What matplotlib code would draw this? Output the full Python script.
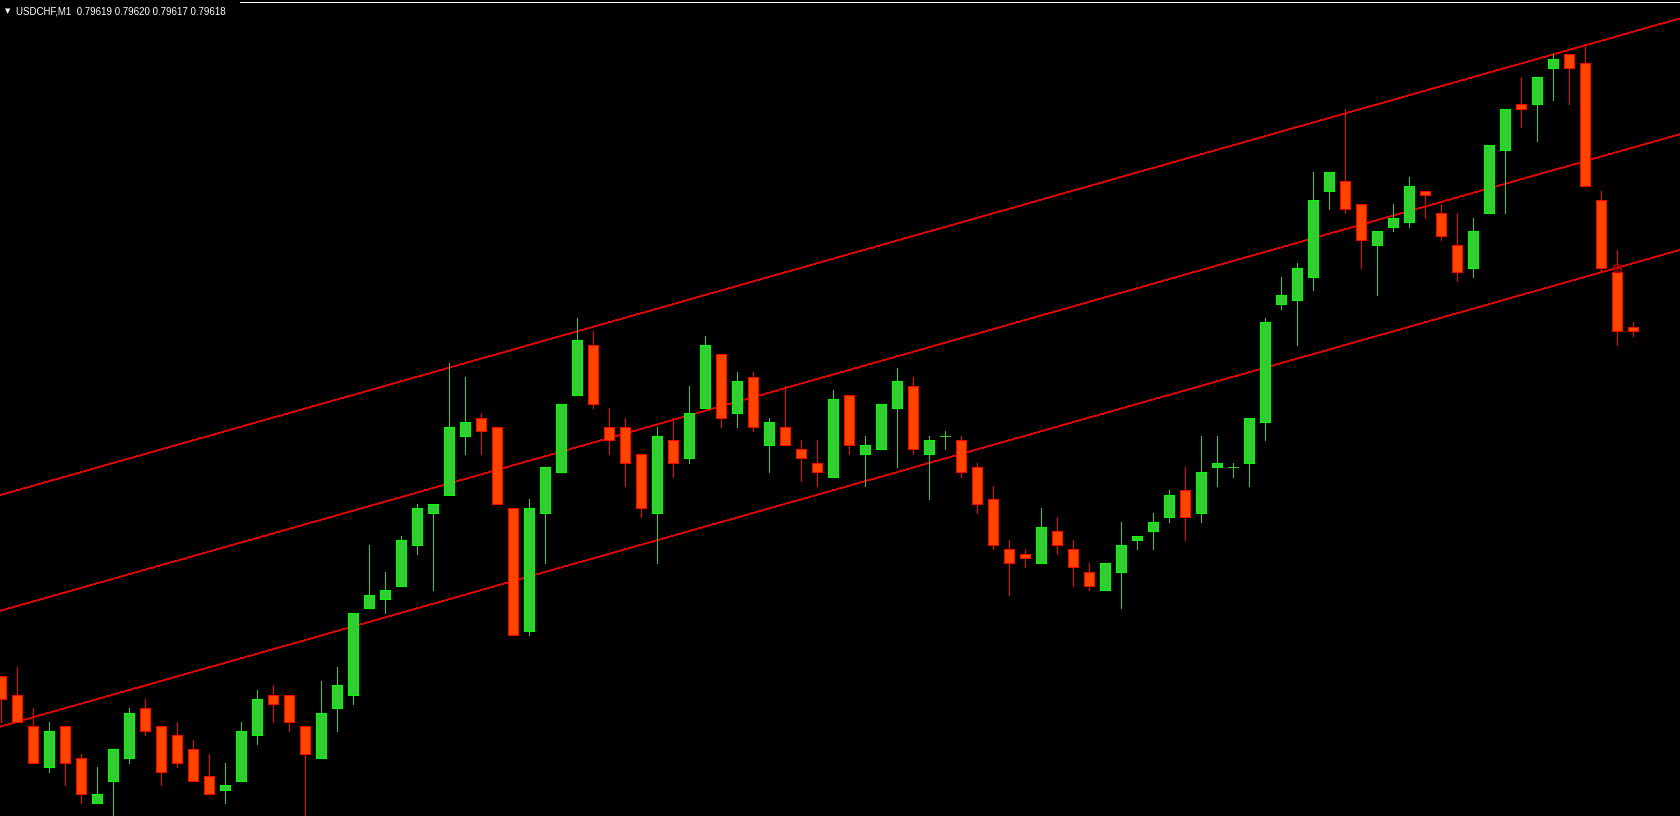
import matplotlib
matplotlib.use("Agg")
import matplotlib.pyplot as plt
from matplotlib.patches import Rectangle
from matplotlib.lines import Line2D

symbol = "USDCHF,M1"
last_quote = ["0.79619", "0.79620", "0.79617", "0.79618"]

# one-minute bars, oldest first
opens = [0.79542, 0.79538, 0.79531, 0.79522, 0.79531, 0.79524, 0.79514, 0.79519, 0.79524, 0.79535,
         0.79531, 0.79529, 0.79526, 0.79520, 0.79517, 0.79519, 0.79529, 0.79538, 0.79538, 0.79531,
         0.79524, 0.79535, 0.79538, 0.79557, 0.79559, 0.79562, 0.79571, 0.79578, 0.79582, 0.79595,
         0.79599, 0.79597, 0.79579, 0.79552, 0.79578, 0.79587, 0.79604, 0.79615, 0.79597, 0.79597,
         0.79591, 0.79578, 0.79594, 0.79590, 0.79601, 0.79613, 0.79600, 0.79608, 0.79593, 0.79597,
         0.79592, 0.79589, 0.79586, 0.79604, 0.79591, 0.79592, 0.79601, 0.79606, 0.79591, 0.79595,
         0.79594, 0.79588, 0.79581, 0.79570, 0.79569, 0.79567, 0.79574, 0.79570, 0.79565, 0.79561,
         0.79565, 0.79572, 0.79574, 0.79577, 0.79583, 0.79578, 0.79588, 0.79588, 0.79589, 0.79598,
         0.79624, 0.79625, 0.79630, 0.79649, 0.79651, 0.79646, 0.79637, 0.79641, 0.79642, 0.79649,
         0.79644, 0.79637, 0.79632, 0.79644, 0.79658, 0.79668, 0.79668, 0.79676, 0.79679, 0.79677,
         0.79647, 0.79631, 0.79619]
highs = [0.79542, 0.79544, 0.79535, 0.79532, 0.79531, 0.79525, 0.79522, 0.79526, 0.79535, 0.79537,
         0.79531, 0.79532, 0.79528, 0.79525, 0.79523, 0.79532, 0.79539, 0.79540, 0.79538, 0.79531,
         0.79541, 0.79544, 0.79556, 0.79571, 0.79565, 0.79573, 0.79580, 0.79580, 0.79611, 0.79608,
         0.79600, 0.79597, 0.79579, 0.79581, 0.79588, 0.79602, 0.79621, 0.79618, 0.79601, 0.79599,
         0.79591, 0.79597, 0.79599, 0.79606, 0.79617, 0.79613, 0.79609, 0.79609, 0.79599, 0.79606,
         0.79594, 0.79594, 0.79605, 0.79604, 0.79595, 0.79602, 0.79610, 0.79608, 0.79595, 0.79596,
         0.79595, 0.79589, 0.79584, 0.79572, 0.79570, 0.79579, 0.79577, 0.79572, 0.79567, 0.79567,
         0.79576, 0.79573, 0.79578, 0.79583, 0.79588, 0.79595, 0.79595, 0.79589, 0.79599, 0.79621,
         0.79630, 0.79633, 0.79653, 0.79653, 0.79667, 0.79646, 0.79640, 0.79646, 0.79652, 0.79649,
         0.79646, 0.79644, 0.79643, 0.79659, 0.79667, 0.79674, 0.79674, 0.79679, 0.79679, 0.79681,
         0.79649, 0.79636, 0.79620]
lows = [0.79532, 0.79532, 0.79523, 0.79521, 0.79518, 0.79514, 0.79514, 0.79509, 0.79523, 0.79529,
        0.79518, 0.79522, 0.79519, 0.79516, 0.79514, 0.79519, 0.79527, 0.79532, 0.79530, 0.79508,
        0.79524, 0.79530, 0.79536, 0.79557, 0.79556, 0.79562, 0.79569, 0.79561, 0.79582, 0.79591,
        0.79591, 0.79580, 0.79551, 0.79551, 0.79567, 0.79587, 0.79604, 0.79601, 0.79591, 0.79584,
        0.79577, 0.79567, 0.79586, 0.79589, 0.79601, 0.79597, 0.79597, 0.79596, 0.79587, 0.79593,
        0.79585, 0.79584, 0.79586, 0.79591, 0.79584, 0.79592, 0.79588, 0.79591, 0.79581, 0.79592,
        0.79586, 0.79578, 0.79570, 0.79560, 0.79566, 0.79567, 0.79569, 0.79562, 0.79561, 0.79561,
        0.79557, 0.79570, 0.79570, 0.79576, 0.79572, 0.79576, 0.79584, 0.79586, 0.79584, 0.79594,
        0.79623, 0.79615, 0.79627, 0.79645, 0.79644, 0.79632, 0.79626, 0.79640, 0.79641, 0.79643,
        0.79638, 0.79629, 0.79630, 0.79644, 0.79644, 0.79663, 0.79660, 0.79669, 0.79668, 0.79650,
        0.79631, 0.79615, 0.79617]
closes = [0.79537, 0.79532, 0.79523, 0.79530, 0.79523, 0.79516, 0.79516, 0.79526, 0.79534, 0.79530,
          0.79521, 0.79523, 0.79519, 0.79516, 0.79518, 0.79530, 0.79537, 0.79536, 0.79532, 0.79525,
          0.79534, 0.79540, 0.79556, 0.79560, 0.79561, 0.79572, 0.79579, 0.79580, 0.79597, 0.79598,
          0.79596, 0.79580, 0.79551, 0.79579, 0.79588, 0.79602, 0.79616, 0.79602, 0.79594, 0.79589,
          0.79579, 0.79595, 0.79589, 0.79600, 0.79615, 0.79599, 0.79607, 0.79597, 0.79598, 0.79593,
          0.79590, 0.79587, 0.79603, 0.79593, 0.79593, 0.79602, 0.79607, 0.79592, 0.79594, 0.79595,
          0.79587, 0.79580, 0.79571, 0.79567, 0.79568, 0.79575, 0.79571, 0.79566, 0.79562, 0.79567,
          0.79571, 0.79573, 0.79576, 0.79582, 0.79577, 0.79587, 0.79589, 0.79588, 0.79599, 0.79620,
          0.79626, 0.79632, 0.79647, 0.79653, 0.79645, 0.79638, 0.79640, 0.79643, 0.79650, 0.79648,
          0.79639, 0.79631, 0.79640, 0.79659, 0.79667, 0.79667, 0.79674, 0.79678, 0.79676, 0.79650,
          0.79632, 0.79618, 0.79618]

# equidistant channel: two anchors on the lower line + full width
channel_bars = [0, 101]
channel_lower = [0.79531, 0.79632]
channel_width = 0.00051

up_face, up_edge = '#32CD32', '#00FF00'
dn_face, dn_edge = '#FF4500', '#FF0000'
LW = 0.68  # ~1 px at 100 dpi

fig = plt.figure(figsize=(16.8, 8.16), dpi=100, facecolor='black')
ax = fig.add_axes([0, 0, 1, 1])
ax.set_facecolor('black')
ax.set_axis_off()
ax.set_xlim(-1.3 / 16, (1680 - 1.3) / 16)
ax.set_ylim(0.7951124, 0.7969097)

# channel lines (ray both ways), thin 1px aliased like the terminal draws them
slope = (channel_lower[1] - channel_lower[0]) / (channel_bars[1] - channel_bars[0])
x0, x1 = -3, 110
for off in (0, channel_width / 2, channel_width):
    y0 = channel_lower[0] + slope * (x0 - channel_bars[0]) + off
    y1 = channel_lower[0] + slope * (x1 - channel_bars[0]) + off
    ax.plot([x0, x1], [y0, y1], color='#E00000', lw=0.5, antialiased=False, zorder=1)

bw = 0.625
for i, (o, h, l, c) in enumerate(zip(opens, highs, lows, closes)):
    up = c >= o
    face = up_face if up else dn_face
    edge = up_edge if up else dn_edge
    wick = up_face if up else dn_edge
    ax.vlines(i, l, h, color=wick, lw=LW, antialiased=False, zorder=2)
    if o == c:
        ax.hlines(o, i - bw / 2, i + bw / 2, color=up_face, lw=LW, antialiased=False, zorder=3)
    else:
        ax.add_patch(Rectangle((i - bw / 2, min(o, c)), bw, abs(c - o), facecolor=face,
                               edgecolor=edge, lw=LW, antialiased=False, zorder=3))

# anchor point of the channel
anchor_y = channel_lower[0] + slope * (channel_bars[1] - channel_bars[0])
ax.plot(channel_bars[1], anchor_y, marker='o', mfc='none', mec='#B00000', ms=6, mew=1, zorder=4)
ax.plot(channel_bars[1], anchor_y, marker='+', color='#B00000', ms=6, mew=1, zorder=4)

# header
fig.text(5 / 1680, 1 - 11 / 816, '\u25bc', color='white', fontsize=5, family='DejaVu Sans', va='center')
fig.text(16 / 1680, 1 - 11.5 / 816, symbol + '  ' + ' '.join(last_quote), color='white',
         fontsize=7, family='Liberation Sans', va='center', ha='left')
fig.add_artist(Line2D([240 / 1680, 1], [1 - 2 / 816, 1 - 2 / 816], transform=fig.transFigure,
                      color='white', lw=LW, antialiased=False))

fig.savefig('out.png', dpi=100, facecolor='black')
